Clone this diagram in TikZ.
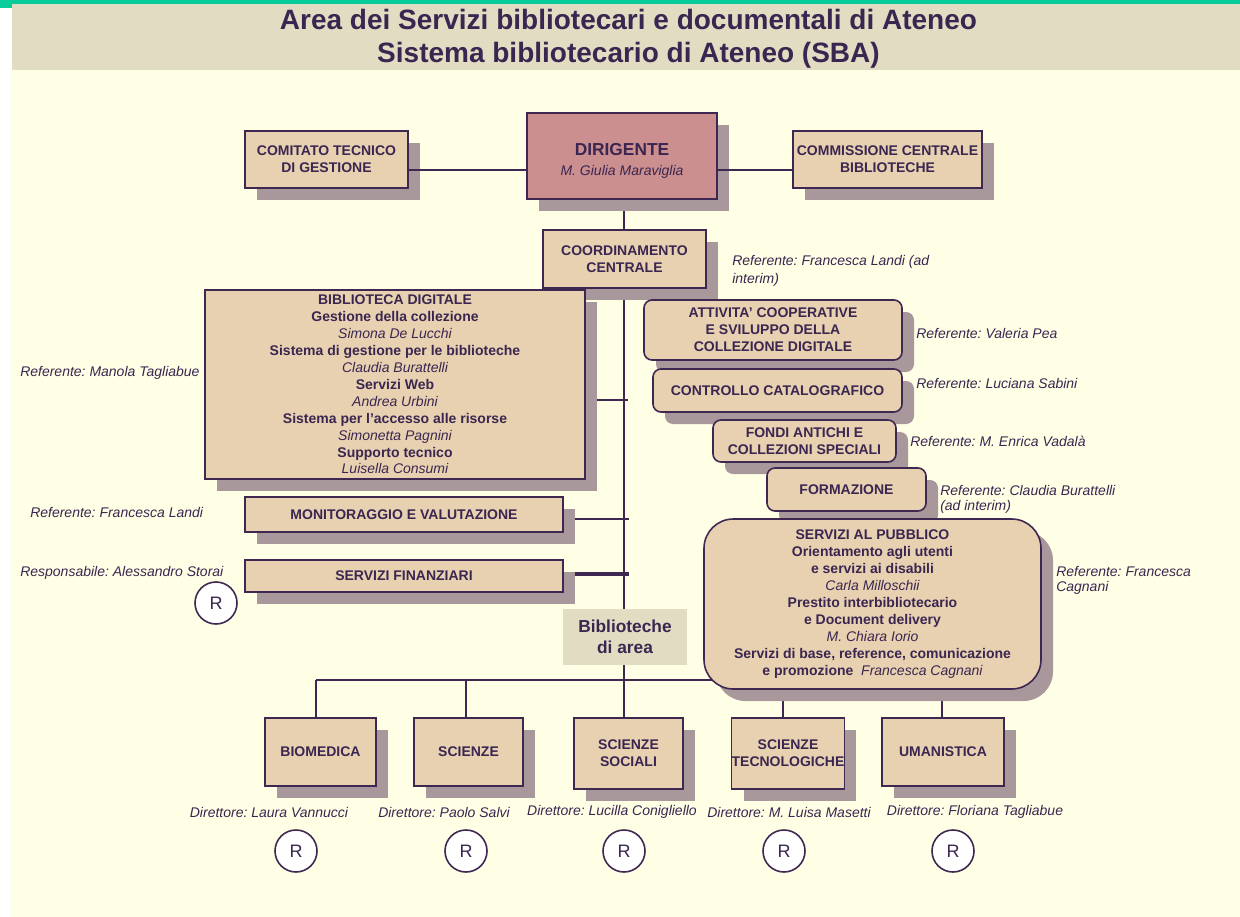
\documentclass[tikz,border=0pt]{standalone}
\usepackage{fontspec}
\setmainfont{Liberation Sans}
\frenchspacing
\usetikzlibrary{shadows,calc}
\definecolor{pagec}{HTML}{FFFFE6}
\definecolor{bandc}{HTML}{E2DDC2}
\definecolor{greenc}{HTML}{08CC9A}
\definecolor{boxc}{HTML}{E8D1B1}
\definecolor{shadc}{HTML}{A8979B}
\definecolor{bordc}{HTML}{3E2852}
\definecolor{txtc}{HTML}{3A2650}
\definecolor{dirc}{HTML}{CC8F90}
\pgfdeclarelayer{bg}
\pgfdeclarelayer{lines}
\pgfsetlayers{bg,lines,main}
\tikzset{
  mw/.style={minimum width=0.75*#1pt},
  mh/.style={minimum height=0.75*#1pt},
  base/.style={draw=bordc, line width=1.2pt, fill=boxc, text=txtc,
    font=\fontsize{10.5}{12.75}\selectfont\bfseries, align=center, inner sep=0pt,
    drop shadow={shadow xshift=9pt, shadow yshift=-9pt, fill=shadc, opacity=1}},
  rbox/.style={base, rounded corners=6pt},
  lbl/.style={text=txtc, font=\fontsize{10.5}{11.25}\selectfont\itshape, inner sep=0pt, align=left},
  dlbl/.style={text=txtc, font=\fontsize{10.5}{11.25}\selectfont\itshape, inner sep=0pt, align=center},
  rcirc/.style={circle, draw=bordc, line width=1.2pt, fill=white, minimum size=31.5pt,
    inner sep=0pt, text=txtc, font=\fontsize{13.5}{15}\selectfont},
  conn/.style={draw=bordc, line width=1.8pt},
}
\newcommand\nmit{\mdseries\itshape}
\begin{document}
\begin{tikzpicture}[x=0.75pt,y=-0.75pt]
\useasboundingbox (0,0) rectangle (1240,917);
\begin{pgfonlayer}{bg}
  \fill[white] (0,0) rectangle (1240,917);
  \fill[pagec] (11,70) rectangle (1240,917);
  \fill[bandc] (12,4) rectangle (1240,70);
  \fill[greenc] (0,0) rectangle (1240,4);
  \fill[greenc] (0,0) rectangle (12,8);
\end{pgfonlayer}
% title
\node[text=txtc, font=\fontsize{21}{24.75}\selectfont\bfseries, align=center] (title) at (628.5,39)
  {Area dei Servizi bibliotecari e documentali di Ateneo\\Sistema bibliotecario di Ateneo (SBA)};
% top row
\node[base, mw=163, mh=57] (com) at (326.5,159.5) {COMITATO TECNICO\\DI GESTIONE};
\node[base, mw=190, mh=86, fill=dirc] (dir) at (622,156) {};
\node[text=txtc, align=center, inner sep=0pt, font=\fontsize{10.5}{15}\selectfont] (dirtxt) at (622,161)
  {{\fontsize{13}{15}\selectfont\bfseries DIRIGENTE}\\{\itshape M. Giulia Maraviglia}};
\node[base, mw=189, mh=57] (comm) at (887.5,159.5) {COMMISSIONE CENTRALE\\BIBLIOTECHE};
% coordinamento
\node[base, mw=163, mh=58] (coord) at (624.5,259) {COORDINAMENTO\\CENTRALE};
\node[lbl, anchor=west, font=\fontsize{10.5}{13.5}\selectfont\itshape] (lcoord) at (732,271) {Referente: Francesca Landi (ad\\interim)};
% biblioteca digitale
\node[base, mw=380, mh=189, font=\fontsize{10.5}{12.7}\selectfont\bfseries] (bibdig) at (395,384.5)
  {BIBLIOTECA DIGITALE\\Gestione della collezione\\{\nmit Simona De Lucchi}\\Sistema di gestione per le biblioteche\\{\nmit Claudia Burattelli}\\Servizi Web\\{\nmit Andrea Urbini}\\Sistema per l'accesso alle risorse\\{\nmit Simonetta Pagnini}\\Supporto tecnico\\{\nmit Luisella Consumi}};
\node[lbl, anchor=west] (lbibdig) at (20,373) {Referente: Manola Tagliabue};
% monitoraggio, finanziari
\node[base, mw=318, mh=35] (mon) at (404,514.5) {MONITORAGGIO E VALUTAZIONE};
\node[lbl, anchor=west] (lmon) at (30,512) {Referente: Francesca Landi};
\node[base, mw=318, mh=32] (fin) at (404,576) {SERVIZI FINANZIARI};
\node[lbl, anchor=west] (lfin) at (20,573) {Responsabile: Alessandro Storai};
\node[rcirc] (rfin) at (216,603) {R};
% right column
\node[rbox, mw=258, mh=60] (att) at (773,330) {ATTIVITA' COOPERATIVE\\E SVILUPPO DELLA\\COLLEZIONE DIGITALE};
\node[lbl, anchor=west] (latt) at (916,333) {Referente: Valeria Pea};
\node[rbox, mw=249, mh=43] (cat) at (777.5,390.5) {CONTROLLO CATALOGRAFICO};
\node[lbl, anchor=west] (lcat) at (916,383) {Referente: Luciana Sabini};
\node[rbox, mw=183, mh=42] (fondi) at (804.5,441) {FONDI ANTICHI E\\COLLEZIONI SPECIALI};
\node[lbl, anchor=west] (lfondi) at (910,441) {Referente: M. Enrica Vadalà};
\node[rbox, mw=159, mh=43] (form) at (846.5,489.5) {FORMAZIONE};
\node[lbl, anchor=west] (lform) at (940,499.5) {Referente: Claudia Burattelli\\(ad interim)};
% biblioteche di area label
\node[fill=bandc, mw=124, mh=56, inner sep=0pt, align=center, text=txtc,
  font=\fontsize{13}{15.75}\selectfont\bfseries] (bib) at (625,637) {Biblioteche\\di area};
% bottom boxes
\node[base, mw=111, mh=68] (biomed) at (320.5,752) {BIOMEDICA};
\node[base, mw=109, mh=68] (sci) at (468.5,752) {SCIENZE};
\node[base, mw=109, mh=71] (scisoc) at (628.5,753.5) {SCIENZE\\SOCIALI};
\node[base, mw=110, mh=71] (scitec) at (788,753.5) {SCIENZE\\TECNOLOGICHE};
\node[base, mw=122, mh=68] (uman) at (943,752) {UMANISTICA};
% servizi al pubblico
\node[base, rounded corners=22pt, mw=337, mh=170, font=\fontsize{10.5}{12.7}\selectfont\bfseries] (sap) at (872.5,604)
  {SERVIZI AL PUBBLICO\\Orientamento agli utenti\\e servizi ai disabili\\{\nmit Carla Milloschii}\\Prestito interbibliotecario\\e Document delivery\\{\nmit M. Chiara Iorio}\\Servizi di base, reference, comunicazione\\e promozione~~{\nmit Francesca Cagnani}};
\node[lbl, anchor=west] (lsap) at (1056,580.5) {Referente: Francesca\\Cagnani};
% directors
\node[dlbl] (dbiomed) at (269,812) {Direttore: Laura Vannucci};
\node[dlbl] (dsci) at (444,812) {Direttore: Paolo Salvi};
\node[dlbl] (dscisoc) at (612,812) {Direttore: Lucilla Conigliello};
\node[dlbl] (dscitec) at (789,812) {Direttore: M. Luisa Masetti};
\node[dlbl] (duman) at (975,812) {Direttore: Floriana Tagliabue};
\node[rcirc] (r1) at (296,851) {R};
\node[rcirc] (r2) at (466,851) {R};
\node[rcirc] (r3) at (624,851) {R};
\node[rcirc] (r4) at (784,851) {R};
\node[rcirc] (r5) at (953,851) {R};
% connectors
\coordinate (spinetop) at (624,199);
\coordinate (hl) at (316,680);
\coordinate (hr) at (942,680);
\coordinate (hsci) at (466,680);
\coordinate (htec) at (783,680);
\draw[conn] (com.east |- 0,170) -- (dir.west |- 0,170);
\draw[conn] (dir.east |- 0,170) -- (comm.west |- 0,170);
\begin{pgfonlayer}{lines}
  \draw[conn] (spinetop) -- (spinetop |- scisoc.north);
  \draw[conn] (bibdig.east |- 0,400) -- (628,400);
  \draw[conn] (mon.east |- 0,519) -- (629,519);
  \draw[conn, line width=2.6pt] (fin.east |- 0,574) -- (629,574);
  \draw[conn] (hl) -- (hr);
  \draw[conn] (hl) -- (hl |- biomed.north);
  \draw[conn] (hsci) -- (hsci |- sci.north);
  \draw[conn] (htec) -- (htec |- scitec.north);
  \draw[conn] (hr) -- (hr |- uman.north);
\end{pgfonlayer}
\end{tikzpicture}
\end{document}
